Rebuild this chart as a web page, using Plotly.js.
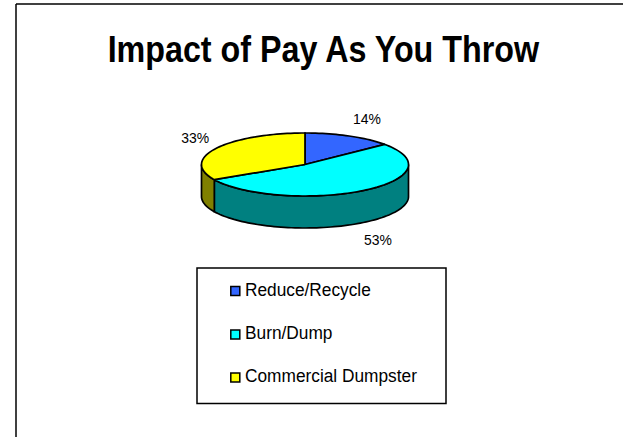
<!DOCTYPE html>
<html><head><meta charset="utf-8">
<script src="https://cdn.plot.ly/plotly-3.0.1.min.js"></script>
<style>html,body{margin:0;padding:0;background:#fff}</style></head>
<body><div id="chart" style="width:623px;height:437px"></div>
<script>
const categories = ["Reduce/Recycle", "Burn/Dump", "Commercial Dumpster"];
const values = [14, 53, 33];
const topColors = ["#3366FF", "#00FFFF", "#FFFF00"];
const sideColors = ["#1a3380", "#008080", "#808000"];
const labelPos = [[367,120],[378,241.5],[195.3,139.5]];
const legendY = [291, 334.5, 377.5];

const FONT = "Liberation Sans, Arial, sans-serif";
const cx=305, cy=164.5, rx=103.5, ry=31.5, depth=32;
const total = values.reduce((a,b)=>a+b,0);
function pt(deg, dy){const r=deg*Math.PI/180;return [cx+rx*Math.sin(r), cy-ry*Math.cos(r)+dy];}
function arc(a,b,dy){const n=Math.max(2,Math.ceil(Math.abs(b-a)/2));const o=[];
  for(let i=0;i<=n;i++)o.push(pt(a+(b-a)*i/n,dy));return o;}
function poly(points,color){return {type:"scatter",mode:"lines",x:points.map(p=>p[0]),y:points.map(p=>p[1]),
  fill:"toself",fillcolor:color,line:{color:"#000",width:1.7,simplify:false},hoverinfo:"skip",showlegend:false,cliponaxis:false};}

const sides=[], tops=[]; let acc=0;
values.forEach((v,i)=>{
  const a=acc/total*360, b=(acc+v)/total*360; acc+=v;
  const s=Math.max(a,90), e=Math.min(b,270);
  if(e>s) sides.push(poly(arc(s,e,0).concat(arc(e,s,depth)).concat([pt(s,0)]),sideColors[i]));
  tops.push(poly([[cx,cy]].concat(arc(a,b,0)).concat([[cx,cy]]),topColors[i]));
});
const pctText={type:"scatter",mode:"text",x:labelPos.map(p=>p[0]),y:labelPos.map(p=>p[1]),
  text:values.map(v=>v+"%"),textposition:"middle center",textfont:{family:FONT,size:15,color:"#000"},hoverinfo:"skip",showlegend:false,cliponaxis:false};
const legendMarks={type:"scatter",mode:"markers",x:categories.map(()=>235.3),y:legendY,
  marker:{symbol:"square",size:9,color:topColors,line:{color:"#000",width:1.5}},hoverinfo:"skip",showlegend:false};
const legendText={type:"scatter",mode:"text",x:categories.map(()=>245),y:legendY,text:categories,
  textposition:"middle right",textfont:{family:FONT,size:18,color:"#000"},hoverinfo:"skip",showlegend:false,cliponaxis:false};

const axis={visible:false,fixedrange:true};
const layout={width:623,height:437,margin:{l:0,r:0,t:0,b:0},paper_bgcolor:"#fff",plot_bgcolor:"#fff",showlegend:false,
  title:{text:"Impact of Pay As You Throw",font:{family:FONT,size:36,color:"#000",weight:"bold"},x:0.519,xref:"paper",xanchor:"center",y:0.888,yref:"container",yanchor:"middle"},
  xaxis:Object.assign({range:[0,623]},axis),yaxis:Object.assign({range:[437,0]},axis),
  shapes:[
    {type:"line",x0:16,x1:16,y0:4,y1:437,line:{color:"#000",width:1.5}},
    {type:"line",x0:16,x1:623,y0:4,y1:4,line:{color:"#000",width:1.5}},
    {type:"rect",x0:197,x1:446,y0:268,y1:403.5,line:{color:"#000",width:1.5},fillcolor:"#fff",layer:"below"}
  ]};
// The reference's type is narrower than Liberation Sans at the same height.
function narrow(sel,ratio){document.querySelectorAll(sel).forEach(t=>{
  const w=t.getComputedTextLength();
  t.setAttribute("lengthAdjust","spacingAndGlyphs");
  t.setAttribute("textLength",(w*ratio).toFixed(1));
});}
Plotly.newPlot("chart",[...sides,...tops,pctText,legendMarks,legendText],layout,{displayModeBar:false,staticPlot:true}).then(()=>{
  narrow(".gtitle",0.896);
  const groups=document.querySelectorAll(".scatterlayer .trace");
  const n=groups.length;
  groups[n-3].querySelectorAll("text").forEach(t=>{t.classList.add("pct");});
  groups[n-1].querySelectorAll("text").forEach(t=>{t.classList.add("leg");});
  narrow("text.pct",0.93);
  narrow("text.leg",0.96);
});
</script></body></html>
